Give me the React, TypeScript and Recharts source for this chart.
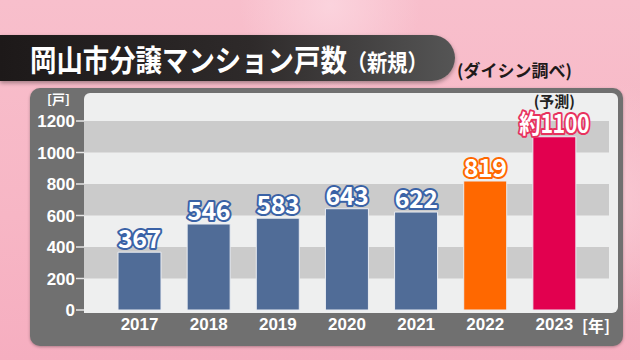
import { BarChart, Bar, XAxis, YAxis, ReferenceArea, LabelList, Cell } from "recharts";

const years = ["2017", "2018", "2019", "2020", "2021", "2022", "2023"];
const counts = [367, 546, 583, 643, 622, 819, 1100];
const valueLabels = ["367", "546", "583", "643", "622", "819", "約1100"];
const barColors = ["#506c97", "#506c97", "#506c97", "#506c97", "#506c97", "#ff6800", "#e2004f"];
const labelStrokes = ["#3a62a6", "#3a62a6", "#3a62a6", "#3a62a6", "#3a62a6", "#ff6800", "#e8325e"];
const yTicks = [0, 200, 400, 600, 800, 1000, 1200];
const grayBands: [number, number][] = [
  [200, 400],
  [600, 800],
  [1000, 1200],
];

const FONT = '"Noto Sans CJK JP", "Noto Sans", sans-serif';
const NUM_FONT = '"Liberation Sans", Arial, sans-serif';
const PAD_L = 21;
const PAD_R = 20;

const data = years.map((year, i) => ({ year, count: counts[i] }));

// bands run under the axis padding too, edge to edge of the plot
function Band(props: any) {
  const { x, y, width, height } = props;
  return <rect x={x - PAD_L} y={y} width={width + PAD_L + PAD_R} height={height} fill="#cbcbcb" />;
}

function ValueLabel(props: any) {
  const { x, y, width, index } = props;
  const cx = x + width / 2;
  const last = index === years.length - 1;
  return (
    <g>
      {last && (
        <text x={cx} y={y - 30} textAnchor="middle" fontFamily={FONT} fontWeight={700} fontSize={15} fill="#222">
          (予測)
        </text>
      )}
      <text
        x={cx}
        y={y - 4}
        textAnchor="middle"
        fontFamily={FONT}
        fontWeight={700}
        fontSize={25}
        fill="#fff"
        stroke={labelStrokes[index]}
        strokeWidth={4}
        strokeLinejoin="round"
        paintOrder="stroke"
        letterSpacing={-0.5}
        textLength={last ? 70 : undefined}
        lengthAdjust="spacingAndGlyphs"
      >
        {valueLabels[index]}
      </text>
    </g>
  );
}

export default function App() {
  return (
    <div
      style={{
        position: "absolute",
        left: 0,
        top: 0,
        width: 640,
        height: 360,
        overflow: "hidden",
        fontFamily: FONT,
        background:
          "radial-gradient(circle at 330px 5px, #fbd3dd 0, rgba(251,211,221,0) 90px), radial-gradient(circle at 600px 200px, #fbc9d5 0, rgba(251,201,213,0) 120px), linear-gradient(180deg, #f8bfcc 0%, #f7b6c5 60%, #f6aec0 100%)",
      }}
    >
      {/* title bar */}
      <div
        style={{
          position: "absolute",
          left: 0,
          top: 35,
          width: 455,
          height: 46,
          borderRadius: "0 23px 23px 0",
          background: "linear-gradient(90deg, #1d1919 0%, #2e2a2a 55%, #555 100%)",
          boxShadow: "0 2px 4px rgba(0,0,0,0.35)",
        }}
      />
      <div
        style={{
          position: "absolute",
          left: 30,
          top: 35,
          height: 46,
          color: "#fff",
          fontWeight: 700,
          fontSize: 30,
          lineHeight: "46px",
          whiteSpace: "nowrap",
          transform: "scaleX(0.88)",
          transformOrigin: "left center",
        }}
      >
        岡山市分譲マンション戸数<span style={{ fontSize: 23 }}>（新規）</span>
      </div>
      <div
        style={{
          position: "absolute",
          left: 457,
          top: 57,
          fontSize: 17,
          fontWeight: 700,
          color: "#1f1a1a",
          whiteSpace: "nowrap",
        }}
      >
        (ダイシン調べ)
      </div>

      {/* panel */}
      <div
        style={{
          position: "absolute",
          left: 30,
          top: 88,
          width: 593,
          height: 258,
          borderRadius: 10,
          background: "#707070",
          boxShadow: "0 1px 3px rgba(0,0,0,0.3)",
        }}
      />
      <div
        style={{
          position: "absolute",
          left: 84,
          top: 93,
          width: 534,
          height: 220,
          borderRadius: "6px 6px 6px 0",
          background: "#eeefef",
        }}
      />
      <div style={{ position: "absolute", left: 47, top: 89, fontSize: 13, fontWeight: 700, color: "#fff" }}>
        [戸]
      </div>
      <div style={{ position: "absolute", left: 582, top: 313, fontSize: 16, fontWeight: 700, color: "#fff" }}>
        [年]
      </div>

      <div style={{ position: "absolute", left: 0, top: 0 }}>
        <BarChart width={640} height={360} data={data} margin={{ top: 121, right: 31, bottom: 20, left: 0 }}>
          {grayBands.map(([lo, hi]) => (
            <ReferenceArea key={lo} y1={lo} y2={hi} shape={Band} ifOverflow="visible" />
          ))}
          <XAxis
            dataKey="year"
            padding={{ left: PAD_L, right: PAD_R }}
            axisLine={false}
            tickLine={false}
            tickSize={0}
            tickMargin={8}
            height={30}
            tick={{ fill: "#fff", fontSize: 17, fontWeight: 700, fontFamily: NUM_FONT }}
          />
          <YAxis
            domain={[0, 1200]}
            ticks={yTicks}
            width={84}
            axisLine={false}
            tickLine={{ stroke: "#e6e6e6", strokeWidth: 1.5 }}
            tickSize={8}
            tickMargin={1}
            interval={0}
            tick={{ fill: "#fff", fontSize: 17, fontWeight: 700, fontFamily: NUM_FONT }}
          />
          <Bar dataKey="count" barSize={43} stroke="#e9ecf2" strokeWidth={1} isAnimationActive={false}>
            {data.map((d, i) => (
              <Cell key={d.year} fill={barColors[i]} />
            ))}
            <LabelList dataKey="count" content={ValueLabel} />
          </Bar>
        </BarChart>
      </div>
    </div>
  );
}
